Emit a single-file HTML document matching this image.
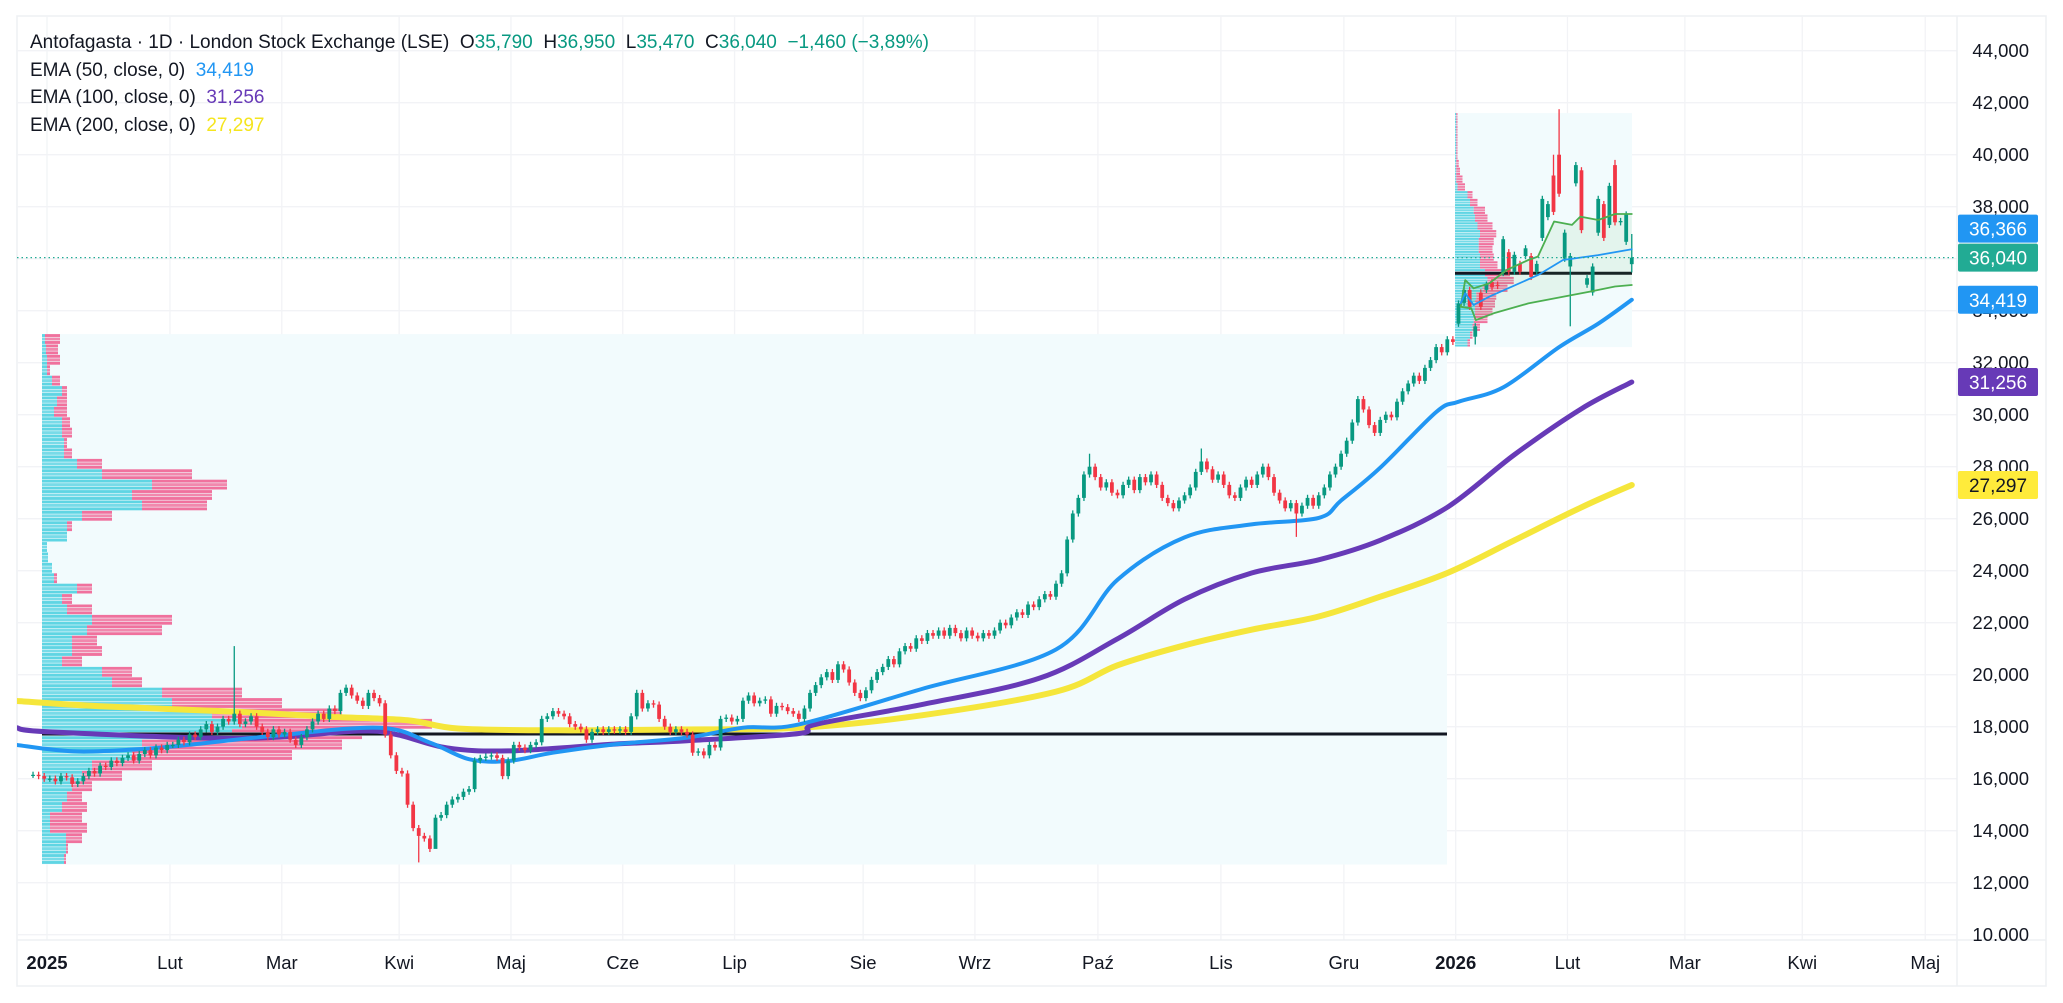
<!DOCTYPE html>
<html><head><meta charset="utf-8"><title>Antofagasta chart</title>
<style>
html,body{margin:0;padding:0;background:#fff;}
svg{display:block;font-family:"Liberation Sans",sans-serif;}
</style></head>
<body>
<svg id="chart" width="2063" height="1003" viewBox="0 0 2063 1003" xmlns="http://www.w3.org/2000/svg">
  <defs><clipPath id="plotclip"><rect x="17" y="16" width="1940" height="924"/></clipPath></defs>
  <rect x="0" y="0" width="2063" height="1003" fill="#ffffff"/>
  <rect x="17" y="16" width="2029" height="970" fill="none" stroke="#eef0f3" stroke-width="1.5"/>
  <g id="grid"></g>
  <g id="plot" clip-path="url(#plotclip)"></g>
  <line x1="17" y1="940" x2="2046" y2="940" stroke="#eef0f3" stroke-width="1.5"/>
  <line x1="1957" y1="16" x2="1957" y2="986" stroke="#eef0f3" stroke-width="1.5"/>
  <g id="yaxis"></g>
  <g id="xaxis"></g>
  <g id="badges"></g>
  <g font-size="19" fill="#131722" style="white-space:pre">
    <text x="30" y="48" xml:space="preserve">Antofagasta · 1D · London Stock Exchange (LSE)  <tspan>O</tspan><tspan fill="#089981">35,790</tspan>  <tspan>H</tspan><tspan fill="#089981">36,950</tspan>  <tspan>L</tspan><tspan fill="#089981">35,470</tspan>  <tspan>C</tspan><tspan fill="#089981">36,040</tspan>  <tspan fill="#089981">−1,460 (−3,89%)</tspan></text>
    <text x="30" y="76" xml:space="preserve">EMA (50, close, 0)  <tspan fill="#2196f3">34,419</tspan></text>
    <text x="30" y="103" xml:space="preserve">EMA (100, close, 0)  <tspan fill="#673ab7">31,256</tspan></text>
    <text x="30" y="131" xml:space="preserve">EMA (200, close, 0)  <tspan fill="#f5e51e">27,297</tspan></text>
  </g>
</svg>
<script>
// ---------- DATA ----------
// daily closes, first 3 are late Dec 2024, then from 2 Jan 2025
const closes = [16150,16100,16000,
16000,15900,16100,16050,15800,15900,16100,16300,16200,16500,16450,16700,16600,16800,16900,16700,16950,17100,16900,17200,17100,17300,
17300,17500,17400,17700,17600,17900,18100,17800,18000,18300,18200,18500,18100,18200,18400,18000,17800,17600,17900,17700,
17800,17500,17300,17600,17900,18200,18500,18300,18700,18600,19300,19500,19200,19000,18800,19300,19100,18900,
17700,16900,16300,16200,15000,14100,13800,13700,13300,14500,14600,15000,15200,15300,15500,15600,16700,16800,16850,16900,16800,16100,16700,
17300,17200,17100,17300,17400,18300,18400,18600,18500,18400,18100,18000,17900,17500,17800,17900,17800,17900,17850,17900,17800,
18400,19300,18700,18900,18850,18300,18000,17800,17900,17800,17700,17000,17050,16900,17300,17200,18300,18350,18200,18300,
19000,19200,18900,19000,19050,18500,18800,18750,18600,18500,18300,18700,19300,19600,19900,20100,19800,20400,20200,19700,19300,19100,19400,
19800,20100,20300,20600,20400,20900,21100,21000,21400,21300,21600,21500,21700,21500,21800,21600,21400,21700,21500,21400,
21600,21500,21700,22000,21900,22200,22400,22300,22700,22600,22900,23100,23000,23500,23900,25200,26200,26800,27700,28000,27600,27200,
27400,27000,26900,27300,27500,27100,27600,27400,27700,27300,26800,26600,26400,26700,26900,27200,27800,28200,27900,27500,27700,27300,26900,
26800,27200,27500,27300,27700,28000,27600,27000,26700,26400,26600,26200,26500,26800,26500,26900,27200,27700,28000,28500,
29000,29700,30600,30200,29600,29300,29800,30000,29900,30500,30900,31200,31500,31300,31800,32100,32600,32400,32900,32800,
34280,34800,34150,33400,34150,35000,34900,34950,36750,35500,36150,35500,36400,35300,35800,38300,38100,37800,38500,37000,
36100,39600,37100,35250,35700,38300,36800,38800,37400,37450,37700,36040];
// explicit opens for 2026 bars (bar index 252..283); earlier bars open at prior close
const opens2026 = [33500,34300,34800,33000,34700,34800,35100,35000,35450,36250,35500,35800,36100,36100,35500,36800,37600,39200,40000,36000,35700,38900,39400,35000,34700,37000,38100,37300,39600,37400,36650,35790];
const wickHighIdx = [33,270,269,280,283,186,206];
const wickHighVal = [21100,41750,40000,39800,36950,28500,28700];
const wickLowIdx = [66,223,272,255,283,69];
const wickLowVal = [12780,25300,33400,32700,35470,14300];

// EMA knots: bar index and value
const ema50Idx = [-6,5,20,40,59,68,75,82,90,101,114,124,134,156,180,191,203,215,227,231,238,248,252,260,270,277,283];
const ema50Val = [17300,17050,17200,17650,17960,17390,16750,16680,17000,17320,17580,17960,18090,19450,20970,23650,25280,25780,26030,26700,27960,30100,30500,31050,32600,33500,34419];
const ema100Idx = [-6,0,34,55,62,71,82,101,114,134,137,156,177,191,203,215,227,238,250,262,274,283];
const ema100Val = [17960,17800,17550,17830,17700,17190,17070,17330,17460,17740,18090,18850,19860,21380,22900,23910,24420,25170,26440,28460,30230,31256];
const ema200Idx = [-6,9,34,50,64,73,91,110,134,156,180,191,203,215,227,238,250,262,274,283];
const ema200Val = [18990,18790,18570,18380,18250,17930,17860,17890,17960,18440,19350,20360,21130,21730,22240,23000,23910,25170,26440,27297];

// anchored VWAP (2026) with bands
const vwapIdx = [252.4,253.2,254.7,257.5,266.2,270.7,277,283];
const vwapVal = [34280,34670,34220,34540,35370,35950,36140,36366];
const upperIdx = [252.4,253.2,254.7,257.5,260.6,264.5,266.2,269.1,272.3,273.8,277,280,283];
const upperVal = [34150,35180,34860,35050,35560,35950,36080,37430,37300,37620,37490,37720,37720];
const lowerIdx = [252.4,254.3,255.1,258.3,264.5,270.7,275.4,280,283];
const lowerVal = [34150,34090,33640,33900,34280,34540,34730,34930,34990];

// volume profile 2025 (rows of 400 from 12700)
const vp1Base = 12700, vp1Step = 400;
const vp1Up =    [22,24,24,8,8,20,25,30,40,50,90,100,190,200,170,130,120,70,60,20,30,30,45,50,25,20,35,12,10,6,5,25,25,40,100,90,110,60,35,22,22,20,20,12,15,20,10,5,5,4,3];
const vp1Total = [24,26,40,45,40,45,40,50,80,110,250,300,320,390,300,240,200,100,90,40,60,55,120,130,50,30,50,15,10,6,5,25,30,70,165,170,185,150,60,30,25,30,28,25,25,25,18,8,18,16,18];
const vp1Poc = 17720;
// volume profile 2026 (rows of 300 from 32600)
const vp2Base = 32600, vp2Step = 300;
const vp2Up =    [10,12,14,15,16,16,17,22,26,24,20,20,19,19,20,18,16,15,12,10,2,1,1,1,1,1,1,1,1,1];
const vp2Total = [12,14,20,26,30,32,33,42,47,44,34,31,30,31,33,30,26,24,18,14,8,6,4,3,2,2,2,2,2,2];
const vp2Poc = 35440;

const priceTicks = [44000,42000,40000,38000,36000,34000,32000,30000,28000,26000,24000,22000,20000,18000,16000,14000,12000,10000];
const monthLabels = ["2025","Lut","Mar","Kwi","Maj","Cze","Lip","Sie","Wrz","Paź","Lis","Gru","2026","Lut","Mar","Kwi","Maj"];
const monthStartIdx = [0,22,42,63,83,103,123,146,166,188,210,232,252,272,293,314,336];
const lastPrice = 36040;
const badgeVals = [36366,36040,34419,31256,27297];
const badgeTexts = ["36,366","36,040","34,419","31,256","27,297"];
const badgeColors = ["#2196f3","#22ab94","#2196f3","#673ab7","#ffeb3b"];

// ---------- SCALES ----------
const NS = "http://www.w3.org/2000/svg";
function yOf(v){ return 102.7 + (42000 - v) * 0.026; }
function xOf(i){ return 47 + (i + 0.5) * 5.59; }
function xEdge(i){ return 47 + i * 5.59; }
function mk(tag, attrs, parent){ const e = document.createElementNS(NS, tag); for (const k in attrs) e.setAttribute(k, attrs[k]); parent.appendChild(e); return e; }

const plot = document.getElementById('plot');
const grid = document.getElementById('grid');
const yaxis = document.getElementById('yaxis');
const xaxis = document.getElementById('xaxis');
const badges = document.getElementById('badges');

priceTicks.forEach(function(v){
  const l = mk('line', {x1:17, x2:1957, y1:yOf(v), y2:yOf(v), stroke:'#f2f3f6', 'stroke-width':1.3}, grid);
  
  
  const t = mk('text', {x:2029, y:yOf(v)+6.5, 'text-anchor':'end', 'font-size':18.5, fill:'#131722'}, yaxis);
  
  
  t.textContent = v.toLocaleString('en-US');
});
const cov = mk('rect', {x:1958, y:941, width:87, height:44, fill:'#ffffff'}, yaxis);



monthStartIdx.forEach(function(idx, k){
  const x = xEdge(idx);
  const l = mk('line', {x1:x, x2:x, y1:16, y2:940, stroke:'#f2f3f6', 'stroke-width':1.3}, grid);
  
  
  const bold = /^\d{4}$/.test(monthLabels[k]);
  const t = mk('text', {x:x, y:969, 'text-anchor':'middle', 'font-size':18.5, fill:'#131722', 'font-weight': bold ? 'bold' : 'normal'}, xaxis);
  
  
  t.textContent = monthLabels[k];
});

function profile(base, step, ups, totals, x0, x1, poc, scale, nm){
  const top = base + step * ups.length;
  const box = mk('rect', {x:x0, y:yOf(top), width:x1-x0, height:yOf(base)-yOf(top), fill:'#f2fbfd'}, plot);
  
  
  const hRow = step * 0.026;
  const sub = 3;
  for (let r = 0; r < ups.length; r++){
    const yTop = yOf(base + step*(r+1));
    for (let s = 0; s < sub; s++){
      const yy = yTop + s*hRow/sub;
      const hh = hRow/sub - 0.6;
      const wu = ups[r]*scale, wt = totals[r]*scale;
      const c = mk('rect', {x:x0, y:yy, width:wu, height:hh, fill:'#4fd0e0', opacity: s===1?0.75:0.9}, plot);
      
      
      if (wt > wu){
        const p = mk('rect', {x:x0+wu, y:yy, width:wt-wu, height:hh, fill:'#f06292', opacity: s===1?0.75:0.9}, plot);
        
        
      }
    }
  }
  const pl = mk('line', {x1:x0, x2:x1, y1:yOf(poc), y2:yOf(poc), stroke:'#131722', 'stroke-width':3}, plot);
  
  
}
profile(vp1Base, vp1Step, vp1Up, vp1Total, 42, 1447, vp1Poc, 1.0, 'profile-2025');
profile(vp2Base, vp2Step, vp2Up, vp2Total, 1455, 1632, vp2Poc, 1.25, 'profile-2026');

function pts(idx, val){ return idx.map(function(i,k){ return [xOf(i), yOf(val[k])]; }); }
function smoothPath(p){
  let d = 'M' + p[0][0].toFixed(1) + ',' + p[0][1].toFixed(1);
  for (let k = 0; k < p.length - 1; k++){
    const p0 = p[Math.max(0,k-1)], p1 = p[k], p2 = p[k+1], p3 = p[Math.min(p.length-1,k+2)];
    const c1x = p1[0] + (p2[0]-p0[0])/6, c1y = p1[1] + (p2[1]-p0[1])/6;
    const c2x = p2[0] - (p3[0]-p1[0])/6, c2y = p2[1] - (p3[1]-p1[1])/6;
    d += ' C' + c1x.toFixed(1)+','+c1y.toFixed(1)+' '+c2x.toFixed(1)+','+c2y.toFixed(1)+' '+p2[0].toFixed(1)+','+p2[1].toFixed(1);
  }
  return d;
}
const up = pts(upperIdx, upperVal), lo = pts(lowerIdx, lowerVal).reverse();
const band = mk('polygon', {points: up.concat(lo).map(function(q){return q[0].toFixed(1)+','+q[1].toFixed(1);}).join(' '), fill:'rgba(76,175,80,0.09)'}, plot);



function line(idx, val, color, w, nm, smooth){
  const p = pts(idx, val);
  const d = smooth ? smoothPath(p) : 'M' + p.map(function(q){return q[0].toFixed(1)+','+q[1].toFixed(1);}).join(' L');
  const pl = mk('path', {d: d, fill:'none', stroke:color, 'stroke-width':w, 'stroke-linejoin':'round', 'stroke-linecap':'round'}, plot);
  
  
}
line(ema200Idx, ema200Val, '#f5e63b', 6, 'ema200-line', true);
line(ema100Idx, ema100Val, '#673ab7', 5, 'ema100-line', true);
line(ema50Idx, ema50Val, '#2196f3', 4, 'ema50-line', true);

for (let k = 0; k < closes.length; k++){
  const i = k - 3;
  const c = closes[k];
  let o = (i >= 252) ? opens2026[i-252] : (k > 0 ? closes[k-1] : c);
  let hi = Math.max(o,c) + 120, lw = Math.min(o,c) - 120;
  const hk = wickHighIdx.indexOf(i); if (hk >= 0) hi = wickHighVal[hk];
  const lk = wickLowIdx.indexOf(i); if (lk >= 0) lw = wickLowVal[lk];
  const isUp = c >= o;
  const col = isUp ? '#089981' : '#f23645';
  const x = xOf(i);
  const w = mk('line', {x1:x, x2:x, y1:yOf(hi), y2:yOf(lw), stroke:col, 'stroke-width':1.3}, plot);
  
  
  const yt = yOf(Math.max(o,c)), yb = yOf(Math.min(o,c));
  const b = mk('rect', {x:x-1.9, y:yt, width:3.8, height:Math.max(1.2, yb-yt), fill:col}, plot);
  
  
}

line(upperIdx, upperVal, '#4caf50', 1.8, 'vwap-upper-band', false);
line(lowerIdx, lowerVal, '#4caf50', 1.8, 'vwap-lower-band', false);
line(vwapIdx, vwapVal, '#2196f3', 1.8, 'vwap-line', false);

const lp = mk('line', {x1:17, x2:1957, y1:yOf(lastPrice), y2:yOf(lastPrice), stroke:'#22ab94', 'stroke-width':1.3, 'stroke-dasharray':'1.5 3'}, plot);



badgeVals.forEach(function(v, k){
  let cy = yOf(v);
  if (k === 0) cy = Math.min(cy, yOf(badgeVals[1]) - 29);
  const r = mk('rect', {x:1958, y:cy-14, width:80, height:28, rx:2, fill:badgeColors[k]}, badges);
  
  
  const t = mk('text', {x:1998, y:cy+7, 'text-anchor':'middle', 'font-size':19, fill: k===4 ? '#131722' : '#ffffff'}, badges);
  
  
  t.textContent = badgeTexts[k];
});
</script>
</body></html>
